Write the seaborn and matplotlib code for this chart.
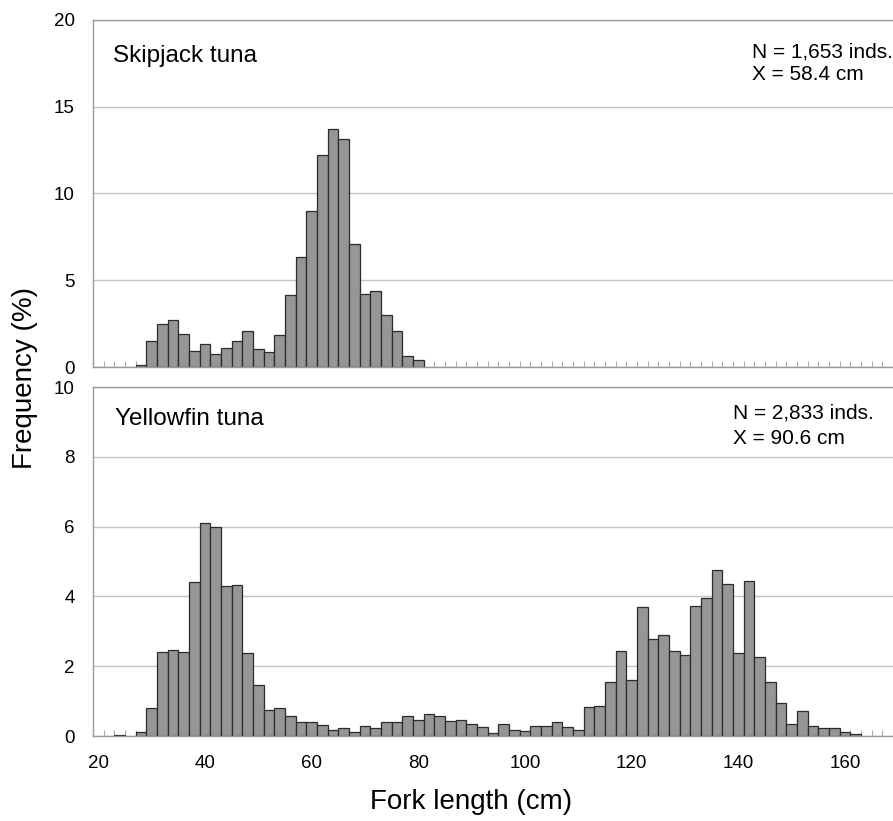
import numpy as np
import pandas as pd
import matplotlib
matplotlib.use('Agg')
from matplotlib import pyplot as plt
import seaborn as sns

# fork length classes (2 cm bins, centre values)
lengths = np.arange(20, 170, 2)

skipjack_freq = [0, 0, 0, 0,
                 0.13, 1.5, 2.46, 2.73, 1.92, 0.92, 1.31, 0.73, 1.12, 1.5,
                 2.1, 1.06, 0.88, 1.85, 4.17, 6.33, 9.0, 12.21, 13.71, 13.12,
                 7.1, 4.23, 4.4, 3.02, 2.1, 0.62, 0.4] + [0] * 44

yellowfin_freq = [0, 0, 0.03, 0, 0.11,
                  0.8, 2.4, 2.47, 2.4, 4.4, 6.09, 5.98, 4.3, 4.33, 2.37,
                  1.47, 0.74, 0.79, 0.57, 0.39, 0.41, 0.32, 0.16, 0.22, 0.12,
                  0.29, 0.24, 0.41, 0.41, 0.56, 0.46, 0.64, 0.57, 0.42, 0.46,
                  0.35, 0.26, 0.1, 0.33, 0.16, 0.13, 0.28, 0.28, 0.39, 0.25,
                  0.16, 0.83, 0.87, 1.54, 2.44, 1.6, 3.69, 2.78, 2.89, 2.44,
                  2.32, 3.72, 3.94, 4.76, 4.36, 2.37, 4.43, 2.26, 1.54, 0.95,
                  0.35, 0.71, 0.29, 0.22, 0.22, 0.11, 0.07, 0, 0, 0]

species = ['Skipjack tuna', 'Yellowfin tuna']
n_text = ['N = 1,653 inds.', 'N = 2,833 inds.']
mean_text = ['X = 58.4 cm', 'X = 90.6 cm']
y_max = [20, 10]
y_step = [5, 2]
x_ticks = [20, 40, 60, 80, 100, 120, 140, 160]

sns.set_style('white')
plt.rcParams['font.family'] = ['Liberation Sans', 'DejaVu Sans']
plt.rcParams['text.color'] = 'black'

W, H = 893, 821
fig = plt.figure(figsize=(W / 100, H / 100), dpi=100)
edges = np.arange(19, 171, 2)

# axes boxes in pixels: left, top, bottom
boxes = [(93, 20, 367), (93, 387, 736)]
# text anchors in pixels: (species x, species baseline, N x, N baseline, X baseline)
anchors = [(113, 62, 752, 57, 80), (115, 425, 733, 418, 444)]

for i, freq in enumerate([skipjack_freq, yellowfin_freq]):
    df = pd.DataFrame({'Fork length': lengths, 'Frequency': freq})
    left, top, bottom = boxes[i]
    ax = fig.add_axes([left / W, 1 - bottom / H, (W - left) / W, (bottom - top) / H])
    sns.histplot(data=df, x='Fork length', weights='Frequency', binwidth=2,
                 binrange=(19, 169), color='#969696', edgecolor='#2b2b2b',
                 linewidth=0.9, alpha=1, ax=ax)
    for p in ax.patches:
        if p.get_height() == 0:
            p.set_visible(False)
    ax.set_xlim(19, 169)
    ax.set_ylim(0, y_max[i])
    ax.set_yticks(np.arange(0, y_max[i] + 1, y_step[i]))
    ax.set_xticks(edges, minor=True)
    if i == 1:
        ax.set_xticks(x_ticks)
        ax.set_xticklabels([str(t) for t in x_ticks])
    else:
        ax.set_xticks([])
    ax.set_axisbelow(True)
    ax.yaxis.grid(True, color='#c4c4c4', lw=1)
    ax.tick_params(axis='both', which='major', length=0, labelsize=13.5,
                   pad=13, labelcolor='black')
    ax.tick_params(axis='x', which='major', pad=14)
    ax.tick_params(axis='x', which='minor', bottom=True, direction='in',
                   length=4, width=0.8, color='#a8a8a8')
    for s in ['left', 'top', 'bottom']:
        ax.spines[s].set_color('#9a9a9a')
        ax.spines[s].set_linewidth(1)
    ax.spines['right'].set_visible(False)
    ax.set_xlabel('')
    ax.set_ylabel('')

    sx, sy, nx, ny, my = anchors[i]
    fig.text(sx / W, 1 - sy / H, species[i], fontsize=17.5, va='baseline')
    fig.text(nx / W, 1 - ny / H, n_text[i], fontsize=15, va='baseline')
    fig.text(nx / W, 1 - my / H, mean_text[i], fontsize=15, va='baseline')

fig.text(25 / W, 1 - 378 / H, 'Frequency (%)', fontsize=20, rotation=90,
         ha='center', va='center')
fig.text(471 / W, 1 - 802 / H, 'Fork length (cm)', fontsize=20,
         ha='center', va='center')

fig.savefig('out.png', dpi=100)
plt.close('all')
